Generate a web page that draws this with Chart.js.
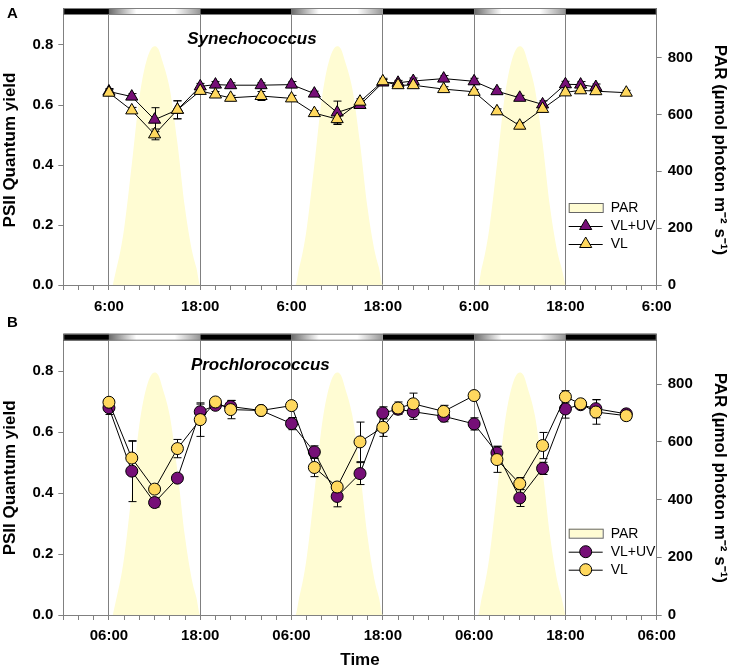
<!DOCTYPE html>
<html>
<head>
<meta charset="utf-8">
<title>PSII quantum yield</title>
<script src="https://cdn.jsdelivr.net/npm/chart.js@4.4.0/dist/chart.umd.min.js"></script>
<style>
  body { margin: 0; background: #fff; }
  #wrap { position: relative; width: 734px; height: 669px; overflow: hidden; font-family: Arial, 'Liberation Sans', sans-serif; }
  canvas { position: absolute; left: 0; }
  .tag { position: absolute; font-weight: bold; font-size: 15px; line-height: 15px; }
</style>
</head>
<body>
<div id="wrap">
  <canvas id="chartA" width="734" height="318" style="top:0"></canvas>
  <canvas id="chartB" width="734" height="351" style="top:320px"></canvas>
  <div class="tag" style="left:7px;top:5px">A</div>
  <div class="tag" style="left:7px;top:314px">B</div>
</div>
<script>
// sampling times, hours after 00:00 of day 1
const HOURS = [6, 9, 12, 15, 18, 20, 22, 26, 30, 33, 36, 39, 42, 44, 46, 50, 54, 57, 60, 63, 66, 68, 70, 74];

// Synechococcus (panel A)
const SYN_VLUV = [0.645, 0.628, 0.551, 0.584, 0.662, 0.668, 0.666, 0.666, 0.668, 0.638, 0.575, 0.600,
                  0.675, 0.674, 0.680, 0.688, 0.679, 0.646, 0.624, 0.602, 0.669, 0.668, 0.660];
const SYN_VLUV_ERR = [0.01, 0.01, 0.04, 0.03, 0.01, 0.01, 0.008, 0.008, 0.01, 0.008, 0.038, 0.01,
                      0.01, 0.008, 0.01, 0.01, 0.01, 0.008, 0.008, 0.012, 0.01, 0.01, 0.01];
const SYN_VL = [0.641, 0.582, 0.502, 0.584, 0.647, 0.635, 0.624, 0.630, 0.622, 0.573, 0.553, 0.611,
                0.679, 0.666, 0.666, 0.653, 0.644, 0.579, 0.531, 0.587, 0.642, 0.649, 0.646, 0.641];
const SYN_VL_ERR = [0.01, 0.01, 0.018, 0.03, 0.01, 0.01, 0.008, 0.015, 0.01, 0.008, 0.018, 0.01,
                    0.01, 0.01, 0.01, 0.008, 0.008, 0.008, 0.01, 0.01, 0.008, 0.008, 0.008, 0.008];

// Prochlorococcus (panel B)
const PRO_VLUV = [0.680, 0.472, 0.369, 0.449, 0.667, 0.688, 0.684, 0.671, 0.628, 0.535, 0.389, 0.464,
                  0.663, 0.675, 0.667, 0.652, 0.627, 0.532, 0.384, 0.481, 0.676, 0.690, 0.677, 0.660];
const PRO_VLUV_ERR = [0.022, 0.1, 0.015, 0.012, 0.025, 0.01, 0.02, 0.01, 0.02, 0.02, 0.034, 0.036,
                      0.02, 0.015, 0.025, 0.018, 0.02, 0.022, 0.028, 0.02, 0.03, 0.01, 0.03, 0.012];
const PRO_VL = [0.698, 0.515, 0.413, 0.546, 0.641, 0.699, 0.674, 0.671, 0.687, 0.484, 0.420, 0.568,
                0.616, 0.679, 0.693, 0.668, 0.720, 0.510, 0.431, 0.556, 0.716, 0.693, 0.666, 0.654];
const PRO_VL_ERR = [0.01, 0.055, 0.012, 0.03, 0.055, 0.01, 0.03, 0.01, 0.01, 0.03, 0.015, 0.065,
                    0.03, 0.02, 0.035, 0.02, 0.01, 0.042, 0.02, 0.043, 0.02, 0.01, 0.04, 0.015];

// daily PAR profile (µmol photon m-2 s-1), same light cycle every day
const PAR_HOURS = [6.5, 7, 7.5, 8, 9, 10, 11, 12, 12.5, 13, 14, 15, 16, 17, 17.5, 18];
const PAR_VALUES = [0, 60, 120, 200, 424, 660, 795, 840, 830, 790, 690, 500, 270, 110, 60, 0];
const DAY_OFFSETS = [0, 24, 48];

// light/dark bar and axis marks
const NIGHT_BANDS = [[0, 6], [18, 30], [42, 54], [66, 78]];
const DAY_BANDS = [[6, 18], [30, 42], [54, 66]];
const LIGHT_SWITCH_HOURS = [6, 18, 30, 42, 54, 66];
const TICK_HOURS = [6, 18, 30, 42, 54, 66, 78];
const TICK_LABELS_A = ['6:00', '18:00', '6:00', '18:00', '6:00', '18:00', '6:00'];
const TICK_LABELS_B = ['06:00', '18:00', '06:00', '18:00', '06:00', '18:00', '06:00'];

const FONT = "Arial, 'Liberation Sans', sans-serif";
const PURPLE = '#760f77';
const YELLOW = '#ffd85e';
const PAR_FILL = '#fffcd3';
const AXIS_GREY = '#808080';

Chart.defaults.font.family = FONT;
Chart.defaults.color = '#000';

function toPoints(values) {
  return values.map((v, i) => ({ x: HOURS[i], y: v }));
}

function parPoints() {
  const pts = [];
  DAY_OFFSETS.forEach(d => {
    PAR_HOURS.forEach((h, i) => pts.push({ x: d + h, y: PAR_VALUES[i] }));
  });
  return pts;
}

// black night / shaded day bar above the plot
const lightBarPlugin = {
  id: 'lightBar',
  afterDraw(chart) {
    const { ctx, chartArea } = chart;
    const xs = chart.scales.x;
    const top = chartArea.top - 7;
    ctx.save();
    NIGHT_BANDS.forEach(([a, b]) => {
      ctx.fillStyle = '#000';
      ctx.fillRect(xs.getPixelForValue(a), top, xs.getPixelForValue(b) - xs.getPixelForValue(a), 7);
    });
    DAY_BANDS.forEach(([a, b]) => {
      const x0 = xs.getPixelForValue(a);
      const x1 = xs.getPixelForValue(b);
      const g = ctx.createLinearGradient(x0, 0, x1, 0);
      g.addColorStop(0, '#6a6a6a');
      g.addColorStop(0.3, '#ffffff');
      g.addColorStop(0.72, '#ffffff');
      g.addColorStop(1, '#959595');
      ctx.fillStyle = g;
      ctx.fillRect(x0, top, x1 - x0, 7);
    });
    ctx.strokeStyle = AXIS_GREY;
    ctx.lineWidth = 1;
    ctx.strokeRect(chartArea.left + 0.5, top + 0.5, chartArea.right - chartArea.left - 1, 6);
    ctx.restore();
  }
};

// error bars, drawn after the PAR fill and before the markers
const errorBarPlugin = {
  id: 'errorBars',
  afterDatasetDraw(chart, args) {
    if (args.index !== 0) return;
    const { ctx } = chart;
    const xs = chart.scales.x;
    const ys = chart.scales.y;
    ctx.save();
    ctx.strokeStyle = '#000';
    ctx.lineWidth = 1;
    chart.data.datasets.forEach(ds => {
      if (!ds.errors) return;
      ds.data.forEach((p, i) => {
        const e = ds.errors[i];
        const x = Math.round(xs.getPixelForValue(p.x)) + 0.5;
        const yHi = ys.getPixelForValue(p.y + e);
        const yLo = ys.getPixelForValue(p.y - e);
        ctx.beginPath();
        ctx.moveTo(x, yHi);
        ctx.lineTo(x, yLo);
        ctx.moveTo(x - 4, yHi);
        ctx.lineTo(x + 4, yHi);
        ctx.moveTo(x - 4, yLo);
        ctx.lineTo(x + 4, yLo);
        ctx.stroke();
      });
    });
    ctx.restore();
  }
};

// species name and the legend inside the plot
const annotationPlugin = {
  id: 'panelText',
  afterDraw(chart, args, opts) {
    const { ctx, chartArea } = chart;
    const xs = chart.scales.x;
    const ys = chart.scales.y;
    ctx.save();
    ctx.fillStyle = '#000';
    ctx.font = 'italic bold 17px ' + FONT;
    ctx.textAlign = 'center';
    ctx.textBaseline = 'middle';
    ctx.fillText(opts.species, xs.getPixelForValue(opts.speciesX), ys.getPixelForValue(0.82));

    // legend
    const lx = chartArea.right - 88;
    const ly = chartArea.top + 188;
    const sets = chart.data.datasets;
    ctx.font = '14px ' + FONT;
    ctx.textAlign = 'left';
    ctx.fillStyle = PAR_FILL;
    ctx.fillRect(lx, ly, 34, 9);
    ctx.strokeStyle = '#666';
    ctx.lineWidth = 1;
    ctx.strokeRect(lx + 0.5, ly + 0.5, 34, 9);
    ctx.fillStyle = '#000';
    ctx.fillText(sets[0].label, lx + 42, ly + 5);
    [sets[1], sets[2]].forEach((ds, k) => {
      const y = ly + 5 + 18 * (k + 1);
      ctx.strokeStyle = '#000';
      ctx.beginPath();
      ctx.moveTo(lx, y + 0.5);
      ctx.lineTo(lx + 34, y + 0.5);
      ctx.stroke();
      ctx.fillStyle = ds.pointBackgroundColor;
      ctx.strokeStyle = '#000';
      Chart.helpers.drawPoint(ctx, {
        pointStyle: ds.pointStyle, radius: ds.pointRadius, rotation: 0, borderWidth: 1
      }, lx + 17, y);
      ctx.fillStyle = '#000';
      ctx.fillText(ds.label, lx + 42, y);
    });
    ctx.restore();
  }
};

function makeChart(canvasId, cfg) {
  const seriesStyle = (label, values, errors, color) => ({
    label: label,
    data: toPoints(values),
    errors: errors,
    yAxisID: 'y',
    borderColor: '#000',
    borderWidth: 1,
    tension: 0,
    pointStyle: cfg.marker,
    pointRadius: cfg.marker === 'triangle' ? 7 : 6,
    pointBackgroundColor: color,
    pointBorderColor: '#000',
    pointBorderWidth: 1
  });

  const datasets = [
    {
      label: 'PAR',
      data: parPoints(),
      yAxisID: 'y2',
      borderWidth: 0,
      pointRadius: 0,
      backgroundColor: PAR_FILL,
      fill: 'origin',
      cubicInterpolationMode: 'monotone',
      order: 2
    },
    Object.assign(seriesStyle('VL+UV', cfg.vluv, cfg.vluvErr, PURPLE), { order: 1 }),
    Object.assign(seriesStyle('VL', cfg.vl, cfg.vlErr, YELLOW), { order: 0 })
  ];

  return new Chart(document.getElementById(canvasId), {
    type: 'line',
    data: { datasets: datasets },
    plugins: [lightBarPlugin, errorBarPlugin, annotationPlugin],
    options: {
      responsive: false,
      animation: false,
      layout: { padding: { top: cfg.padTop, left: 0, right: 0, bottom: 0 } },
      plugins: {
        legend: { display: false },
        tooltip: { enabled: false },
        panelText: { species: cfg.species, speciesX: cfg.speciesX }
      },
      scales: {
        x: {
          type: 'linear',
          position: 'bottom',
          min: 0,
          max: 78,
          afterFit: s => { s.height = cfg.xHeight; },
          ticks: {
            stepSize: 2,
            autoSkip: false,
            maxRotation: 0,
            minRotation: 0,
            padding: cfg.xTickPad,
            font: { size: 15, weight: 'bold' },
            callback: v => {
              const i = TICK_HOURS.indexOf(v);
              return i >= 0 ? cfg.tickLabels[i] : '';
            }
          },
          grid: {
            color: c => (c.tick && LIGHT_SWITCH_HOURS.includes(c.tick.value)) ? AXIS_GREY : 'rgba(0,0,0,0)',
            tickColor: AXIS_GREY,
            tickLength: 5,
            lineWidth: 1
          },
          border: { display: true, color: AXIS_GREY },
          title: {
            display: !!cfg.xTitle,
            text: cfg.xTitle || '',
            font: { size: 17, weight: 'bold' },
            padding: { top: 0, bottom: 0 }
          }
        },
        y: {
          position: 'left',
          min: 0,
          max: 0.9,
          afterFit: s => { s.width = 63.3; },
          ticks: {
            stepSize: 0.2,
            includeBounds: false,
            padding: 5,
            font: { size: 15, weight: 'bold' },
            callback: v => v.toFixed(1)
          },
          grid: { drawOnChartArea: false, tickColor: AXIS_GREY, tickLength: 5 },
          border: { display: true, color: AXIS_GREY },
          title: {
            display: true,
            text: 'PSII Quantum yield',
            font: { size: 17, weight: 'bold' },
            padding: 0
          }
        },
        y2: {
          position: 'right',
          min: 0,
          max: 950,
          afterFit: s => { s.width = 77.3; },
          ticks: {
            stepSize: 200,
            includeBounds: false,
            padding: 6,
            font: { size: 15, weight: 'bold' }
          },
          grid: { drawOnChartArea: false, tickColor: AXIS_GREY, tickLength: 5 },
          border: { display: true, color: AXIS_GREY },
          title: {
            display: true,
            text: 'PAR (µmol photon m⁻² s⁻¹)',
            font: { size: 17, weight: 'bold' },
            padding: 4
          }
        }
      }
    }
  });
}

makeChart('chartA', {
  marker: 'triangle',
  vluv: SYN_VLUV, vluvErr: SYN_VLUV_ERR,
  vl: SYN_VL, vlErr: SYN_VL_ERR,
  species: 'Synechococcus', speciesX: 24.8,
  tickLabels: TICK_LABELS_A,
  padTop: 10, xHeight: 33, xTickPad: 8
});

makeChart('chartB', {
  marker: 'circle',
  vluv: PRO_VLUV, vluvErr: PRO_VLUV_ERR,
  vl: PRO_VL, vlErr: PRO_VL_ERR,
  species: 'Prochlorococcus', speciesX: 25.9,
  tickLabels: TICK_LABELS_B,
  padTop: 20.7, xHeight: 56, xTickPad: 7,
  xTitle: 'Time'
});
</script>
</body>
</html>
